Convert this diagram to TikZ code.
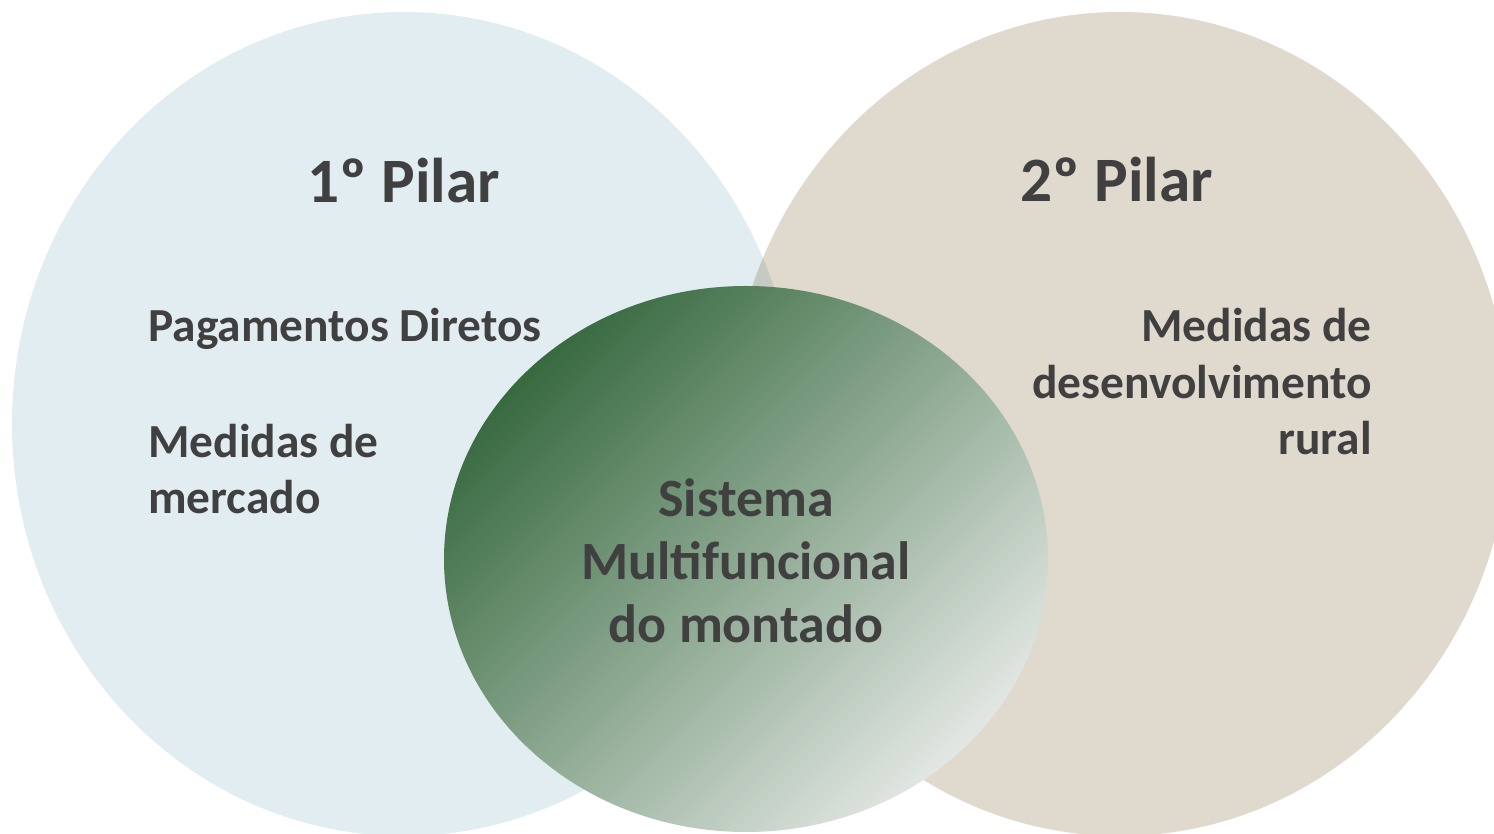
\documentclass[tikz,border=0pt]{standalone}
\usepackage{fontspec}
\setmainfont{Carlito}
\definecolor{pilarblue}{HTML}{E2EDF1}
\definecolor{pilarbeige}{HTML}{DFD9CE}
\definecolor{pilarmix}{HTML}{C7CAC3}
\definecolor{montdark}{HTML}{386A40}
\definecolor{montlight}{HTML}{E2E7E3}
\definecolor{txtgray}{HTML}{404040}
\begin{document}
\begin{tikzpicture}[x=0.02cm,y=0.02cm,
  lbl/.style={text=txtgray,inner sep=0pt,font=\bfseries\fontsize{27}{32.4}\selectfont},
  ttl/.style={text=txtgray,inner sep=0pt,font=\bfseries\fontsize{36}{42}\selectfont}]
 \useasboundingbox (0,0) rectangle (1494,834);
 \fill[pilarblue] (404,410) ellipse [x radius=392,y radius=412];
 \fill[pilarbeige] (1120,410) ellipse [x radius=390,y radius=412];
 \begin{scope}
  \clip (404,410) ellipse [x radius=392,y radius=412];
  \fill[pilarmix] (1120,410) ellipse [x radius=390,y radius=412];
 \end{scope}
 \shade[top color=montdark,bottom color=montlight,shading angle=45] (746,275) ellipse [x radius=302,y radius=273];
 \node[ttl,anchor=base] (pilar1) at (404,631) {1º Pilar};
 \node[ttl,anchor=base] (pilar2) at (1117,632) {2º Pilar};
 \node[lbl,anchor=base west] (pagam) at (148,492) {Pagamentos Diretos};
 \node[lbl,anchor=base west,align=left] (merc) at (148,320) {Medidas de\\mercado};
 \node[lbl,anchor=base east,align=right] (rural) at (1372,379) {Medidas de\\desenvolvimento\\rural};
 \node[text=txtgray,inner sep=0pt,anchor=base,align=center,font=\bfseries\fontsize{30.7}{35.9}\selectfont] (montado) at (746,191) {Sistema\\Multifuncional\\do montado};
\end{tikzpicture}
\end{document}
